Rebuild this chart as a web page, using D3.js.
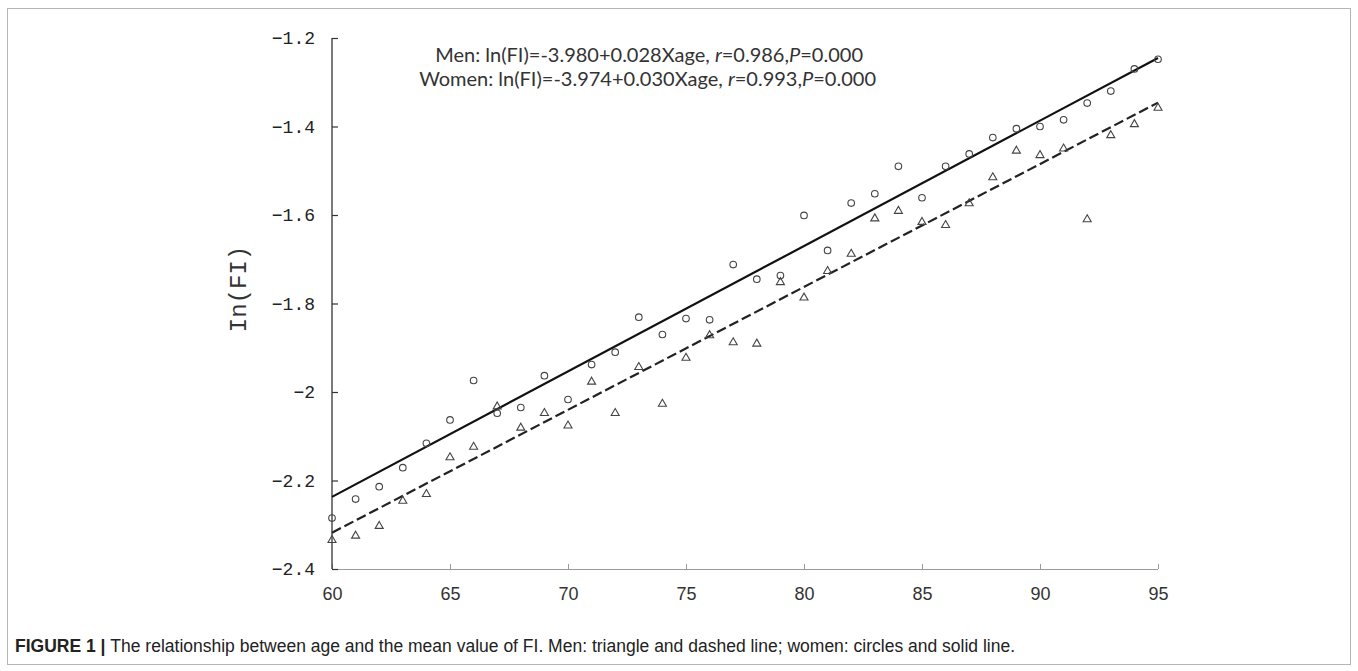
<!DOCTYPE html>
<html>
<head>
<meta charset="utf-8">
<script src="https://cdn.jsdelivr.net/npm/d3@7/dist/d3.min.js"></script>
<style>
  html, body { margin: 0; padding: 0; background: #fff; }
  svg { display: block; }
</style>
</head>
<body>
<div id="holder"></div>
<script>
const w = 1358;
const h = 671;

// DATA
const ages = [60, 61, 62, 63, 64, 65, 66, 67, 68, 69, 70, 71, 72, 73, 74, 75, 76, 77,
              78, 79, 80, 81, 82, 83, 84, 85, 86, 87, 88, 89, 90, 91, 92, 93, 94, 95];
// circles
const womenFI = [-2.285, -2.242, -2.214, -2.171, -2.116, -2.063, -1.974, -2.048, -2.035,
                 -1.963, -2.017, -1.938, -1.910, -1.831, -1.870, -1.834, -1.837, -1.712,
                 -1.745, -1.737, -1.601, -1.680, -1.573, -1.552, -1.490, -1.561, -1.490,
                 -1.462, -1.425, -1.405, -1.400, -1.385, -1.347, -1.320, -1.270, -1.248];
// triangles
const menFI = [-2.335, -2.325, -2.303, -2.246, -2.231, -2.148, -2.124, -2.033, -2.081,
               -2.048, -2.076, -1.977, -2.048, -1.944, -2.027, -1.923, -1.872, -1.888,
               -1.891, -1.752, -1.787, -1.727, -1.688, -1.608, -1.591, -1.616, -1.623,
               -1.574, -1.515, -1.455, -1.465, -1.450, -1.610, -1.420, -1.395, -1.358];
// fitted lines, read at age 60 and 95
const fitAges = [60, 95];
const solidFit = [-2.237, -1.245];
const dashedFit = [-2.318, -1.346];

const xTicks = [60, 65, 70, 75, 80, 85, 90, 95];
const yTicks = [-1.2, -1.4, -1.6, -1.8, -2, -2.2, -2.4];

const equations = [
    { who: "Men: ", a: "-3.980", b: "0.028", r: "0.986", p: "0.000" },
    { who: "Women: ", a: "-3.974", b: "0.030", r: "0.993", p: "0.000" }
];

// SVG
const svg = d3.select("#holder")
    .append("svg")
    .attr("width", w)
    .attr("height", h);

// frame around figure + caption
svg.append("rect")
    .attr("x", 7.5).attr("y", 8.5)
    .attr("width", 1343).attr("height", 656)
    .attr("fill", "none")
    .attr("stroke", "#b5b5b5")
    .attr("stroke-width", 1);

// SCALES
const xScale = d3.scaleLinear().domain([60, 95]).range([332, 1158]);
const yScale = d3.scaleLinear().domain([-2.4, -1.2]).range([569, 38]);

// X AXIS
const xAxis = d3.axisTop(xScale).tickValues(xTicks).tickSize(5).tickFormat(d3.format("d"));
const gx = svg.append("g")
    .attr("transform", "translate(0," + yScale(-2.4) + ")")
    .call(xAxis);
gx.select(".domain").attr("stroke", "#9a9a9a").attr("d", "M" + xScale(60) + ",0.5H" + xScale(95));
gx.selectAll(".tick line").attr("stroke", "#9a9a9a");
gx.selectAll(".tick text")
    .attr("y", 31)
    .style("font-family", "Liberation Sans, Arial, sans-serif")
    .style("font-size", "18px")
    .attr("fill", "#333");

// Y AXIS
const yAxis = d3.axisRight(yScale).tickValues(yTicks).tickSize(6)
    .tickFormat(d => d3.format("")(d).replace("-", "\u2212"));
const gy = svg.append("g")
    .attr("transform", "translate(" + xScale(60) + ",0)")
    .call(yAxis);
gy.select(".domain").attr("stroke", "#333").attr("stroke-width", 1.3)
    .attr("d", "M0," + yScale(-1.2) + "V" + yScale(-2.4));
gy.selectAll(".tick line").attr("stroke", "#333").attr("stroke-width", 1.2);
gy.selectAll(".tick text")
    .attr("x", -17)
    .attr("text-anchor", "end")
    .style("font-family", "Liberation Mono, DejaVu Sans Mono, monospace")
    .style("font-size", "18px")
    .attr("fill", "#222");

// Y TITLE
svg.append("text")
    .attr("transform", "translate(238,289) rotate(-90)")
    .attr("text-anchor", "middle")
    .attr("dy", "0.35em")
    .style("font-family", "Liberation Mono, monospace")
    .style("font-size", "24px")
    .attr("fill", "#333")
    .text("In(FI)");

// FIT LINES
const line = d3.line().x(d => xScale(d[0])).y(d => yScale(d[1]));
svg.append("path")
    .datum(fitAges.map((a, i) => [a, solidFit[i]]))
    .attr("d", line)
    .attr("fill", "none")
    .attr("stroke", "#111")
    .attr("stroke-width", 2.2);
svg.append("path")
    .datum(fitAges.map((a, i) => [a, dashedFit[i]]))
    .attr("d", line)
    .attr("fill", "none")
    .attr("stroke", "#222")
    .attr("stroke-width", 2.2)
    .attr("stroke-dasharray", "10,4");

// POINTS
svg.selectAll("circle.women")
    .data(ages.map((a, i) => [a, womenFI[i]]))
    .enter()
    .append("circle")
    .attr("class", "women")
    .attr("cx", d => xScale(d[0]))
    .attr("cy", d => yScale(d[1]))
    .attr("r", 3.3)
    .attr("fill", "none")
    .attr("stroke", "#444")
    .attr("stroke-width", 1.1);

const tri = d3.symbol().type(d3.symbolTriangle).size(28);
svg.selectAll("path.men")
    .data(ages.map((a, i) => [a, menFI[i]]))
    .enter()
    .append("path")
    .attr("class", "men")
    .attr("d", tri)
    .attr("transform", d => "translate(" + xScale(d[0]) + "," + yScale(d[1]) + ")")
    .attr("fill", "none")
    .attr("stroke", "#444")
    .attr("stroke-width", 1.1);

// EQUATIONS (right ends at fixed x)
const eqRight = [863, 876];
const eqY = [62, 86];
equations.forEach((e, i) => {
    const t = svg.append("text")
        .attr("x", eqRight[i])
        .attr("y", eqY[i])
        .attr("text-anchor", "end")
        .style("font-family", "Lato, Open Sans, sans-serif")
        .style("font-size", "20px")
        .attr("fill", "#333");
    t.append("tspan").text(e.who + "ln(FI)=" + e.a + "+" + e.b + "Xage, ");
    t.append("tspan").style("font-style", "italic").text("r");
    t.append("tspan").text("=" + e.r + ",");
    t.append("tspan").style("font-style", "italic").text("P");
    t.append("tspan").text("=" + e.p);
});

// CAPTION
const cap = svg.append("text")
    .attr("x", 15)
    .attr("y", 652)
    .style("font-family", "Liberation Sans, Arial, sans-serif")
    .style("font-size", "17.5px")
    .attr("fill", "#222");
cap.append("tspan").style("font-weight", "bold").text("FIGURE 1 | ");
cap.append("tspan").text("The relationship between age and the mean value of FI. Men: triangle and dashed line; women: circles and solid line.");
</script>
</body>
</html>
